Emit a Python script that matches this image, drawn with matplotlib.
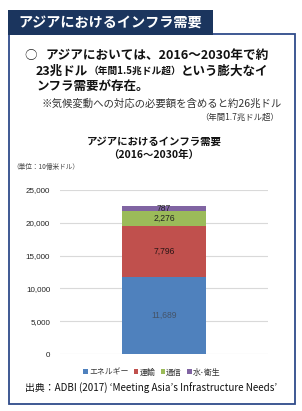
import matplotlib
matplotlib.use("Agg")
import matplotlib.pyplot as plt
from matplotlib.patches import Rectangle
from matplotlib.ticker import FuncFormatter

plt.rcParams['font.family'] = ['Noto Sans CJK JP', 'DejaVu Sans']

# ---- data ----
categories = ["エネルギー", "運輸", "通信", "水･衛生"]
values = [11689, 7796, 2276, 787]
value_labels = ["11,689", "7,796", "2,276", "787"]
colors = ["#4F81BD", "#C0504D", "#9BBB59", "#8064A2"]
label_colors = ["#44546A", "#2A1515", "#222222", "#222222"]
yticks = [0, 5000, 10000, 15000, 20000, 25000]

W, H = 302, 411
fig = plt.figure(figsize=(W / 100, H / 100), dpi=100)
renderer = fig.canvas.get_renderer()

# overlay axes in pixel coordinates
bg = fig.add_axes([0, 0, 1, 1])
bg.set_xlim(0, W)
bg.set_ylim(H, 0)
bg.axis('off')

navy = "#1B355E"
border = "#2F4B8A"
# main box
bg.add_patch(Rectangle((8.5, 34.5), 286, 369.5, fill=False, edgecolor=border, lw=1.3))
# title tab
bg.add_patch(Rectangle((8, 10), 205, 25, facecolor=navy, edgecolor=navy, lw=0))
bg.text(18, 22.5, "アジアにおけるインフラ需要", color="white", fontsize=10.2,
        fontweight="bold", va="center", ha="left")


def seq_text(x, y, pieces):
    """place text pieces one after another (pixel coords)"""
    for s, size in pieces:
        t = bg.text(x, y, s, fontsize=size, fontweight="bold", va="center",
                    ha="left", color="#111111")
        bb = t.get_window_extent(renderer=renderer)
        x += bb.width


# main statement
bg.text(24, 55.5, "○", fontsize=9, va="center", ha="left", color="#222222")
bg.text(46, 55.5, "アジアにおいては、2016～2030年で約", fontsize=9.1,
        fontweight="bold", va="center", ha="left", color="#111111")
seq_text(36, 71, [("23兆ドル", 9.0), ("（年間1.5兆ドル超）", 7.0), ("という膨大なイ", 9.0)])
bg.text(37, 86, "ンフラ需要が存在。", fontsize=9.0, fontweight="bold", va="center", ha="left", color="#111111")

bg.text(282, 104, "※気候変動への対応の必要額を含めると約26兆ドル", fontsize=7.5,
        va="center", ha="right", color="#333333")
bg.text(279, 117, "（年間1.7兆ドル超）", fontsize=6.0, va="center", ha="right", color="#333333")

# chart title
bg.text(154, 142, "アジアにおけるインフラ需要", fontsize=7.5, fontweight="bold",
        va="center", ha="center", color="#111111")
bg.text(154, 154.5, "（2016～2030年）", fontsize=7.5, fontweight="bold",
        va="center", ha="center", color="#111111")
bg.text(12, 167, "（単位：10億米ドル）", fontsize=4.8, va="center", ha="left", color="#444444")

# source
bg.text(151, 388, "出典：ADBI (2017) ‘Meeting Asia’s Infrastructure Needs’", fontsize=7.1,
        va="center", ha="center", color="#111111")

# ---- chart ----
ax_l, ax_r, ax_t, ax_b = 60, 268, 190, 354
ax = fig.add_axes([ax_l / W, (H - ax_b) / H, (ax_r - ax_l) / W, (ax_b - ax_t) / H])
ax.set_xlim(-0.5, 0.5)
ax.set_ylim(0, 25000)
ax.set_yticks(yticks)
ax.yaxis.set_major_formatter(FuncFormatter(lambda v, p: f"{int(v):,}"))
ax.tick_params(axis='y', length=0, labelsize=5.8, pad=7, labelcolor="#222222")
ax.tick_params(axis='x', length=0, labelbottom=False)
for t in ax.get_yticklabels():
    t.set_fontfamily(['Liberation Sans', 'DejaVu Sans'])
for s in ax.spines.values():
    s.set_visible(False)
ax.grid(axis='y', color="#D9D9D9", lw=0.8)
ax.set_axisbelow(True)
ax.patch.set_alpha(0)

bottom = 0
handles = []
for cat, v, lab, c, lc in zip(categories, values, value_labels, colors, label_colors):
    b = ax.bar([0], [v], bottom=bottom, width=0.4, color=c, label=cat,
               edgecolor=c, lw=0)
    handles.append(b)
    ax.text(0, bottom + v / 2, lab, ha="center", va="center", fontsize=6.2,
            color=lc, family=['Liberation Sans', 'DejaVu Sans'])
    bottom += v

leg = fig.legend(handles=handles, labels=categories, loc="center",
                 bbox_to_anchor=(152 / W, 1 - 372 / H), ncol=4, frameon=False,
                 fontsize=5.7, handlelength=0.55, handleheight=0.55,
                 handletextpad=0.15, columnspacing=0.7, borderpad=0)
for t in leg.get_texts():
    t.set_color("#333333")

fig.savefig("out.png", dpi=100)
